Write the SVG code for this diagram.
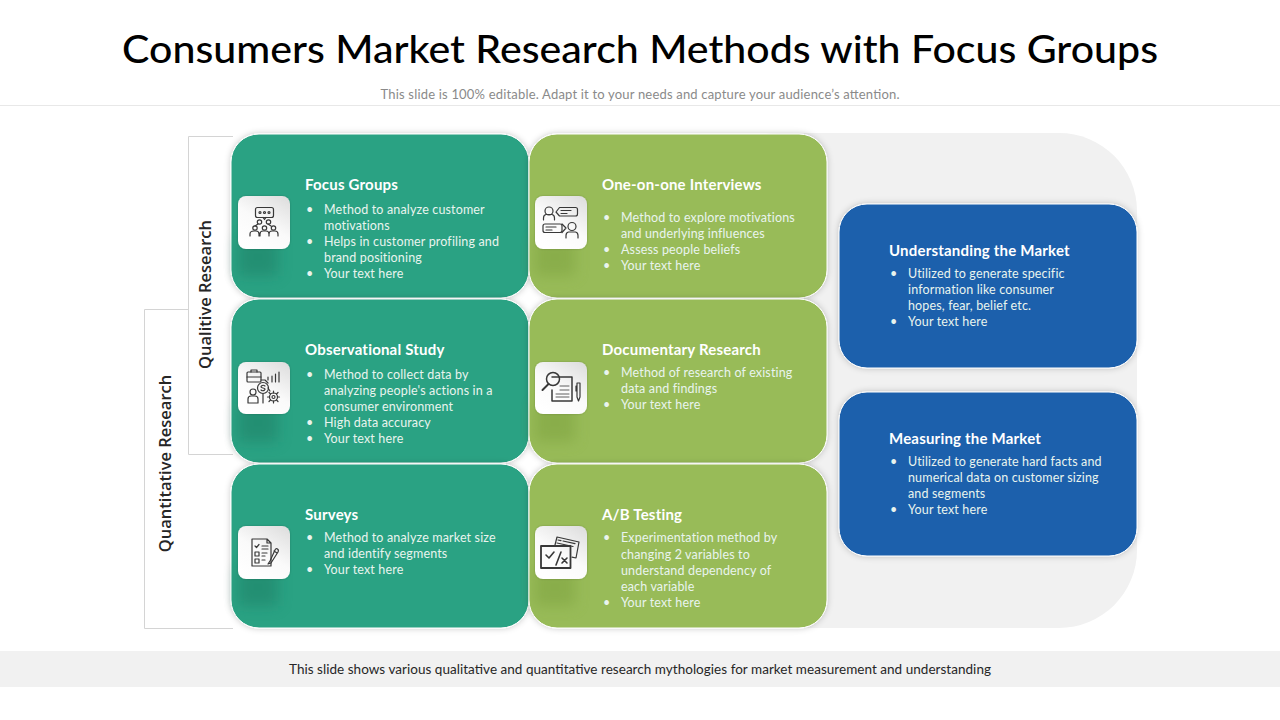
<svg xmlns="http://www.w3.org/2000/svg" width="1280" height="720" viewBox="0 0 1280 720">
<style>
text{font-family:"Lato","Open Sans",sans-serif}
.title{font-size:39px;font-weight:500;fill:#000;font-family:"Lato",sans-serif}
.sub{font-size:13px;fill:#8a8a8a}
.foot{font-size:13.5px;fill:#262626}
.side{font-size:16.500px;font-weight:600;fill:#262626;font-family:"Open Sans",sans-serif}
.h{font-size:15px;font-weight:700;fill:#fff;letter-spacing:.2px}
.b{font-size:12.500px;fill:#e9f4ee;letter-spacing:.15px;transform:translateY(.7px)}
.card{stroke:#fff;stroke-width:1;filter:url(#sh)}
.teal{fill:#2ca283}.green{fill:#98bb59}.blue{fill:#1c60ac}
.ib{fill:url(#ig);stroke:none;filter:url(#is)}
.ic{fill:none;stroke:#383838;stroke-width:1.200;stroke-linecap:round;stroke-linejoin:round}
.brk{fill:none;stroke:#d4d4d4;stroke-width:1}
</style>
<defs>
<filter id="sh" x="-10%" y="-10%" width="120%" height="120%"><feDropShadow dx="0" dy="0" stdDeviation="3" flood-color="#000" flood-opacity=".22"/></filter>
<filter id="is" x="-20%" y="-20%" width="140%" height="140%"><feDropShadow dx="0" dy="0" stdDeviation="1" flood-color="#000" flood-opacity=".2"/></filter>
<filter id="bl" x="-40%" y="-40%" width="180%" height="180%"><feGaussianBlur stdDeviation="7"/></filter>
<linearGradient id="ig" x1="0.9" y1="0" x2="0.3" y2="1"><stop offset="0" stop-color="#dedede"/><stop offset=".55" stop-color="#fafafa"/><stop offset="1" stop-color="#fff"/></linearGradient>
</defs>
<rect width="1280" height="720" fill="#fff"/>
<text class="title" x="640" y="63" text-anchor="middle" textLength="1036" lengthAdjust="spacingAndGlyphs">Consumers Market Research Methods with Focus Groups</text>
<text class="sub" x="640" y="99" text-anchor="middle" textLength="519" lengthAdjust="spacing">This slide is 100% editable. Adapt it to your needs and capture your audience’s attention.</text>
<line x1="0" y1="105.500" x2="1280" y2="105.500" stroke="#e8e8e8"/>
<rect x="0" y="651" width="1280" height="36" fill="#f1f1f1"/>
<text class="foot" x="640" y="674" text-anchor="middle" textLength="702" lengthAdjust="spacing">This slide shows various qualitative and quantitative research mythologies for market measurement and understanding</text>
<rect id="backdrop" x="700" y="133" width="437" height="495" rx="78" fill="#f1f1f1"/>
<g id="connectors">
<path class="brk" d="M233 136.500H188.500V454.500H233"/>
<path class="brk" d="M188 309.500H144.500V628.500H233"/>
</g>
<text class="side" transform="translate(210.500 294.500) rotate(-90)" text-anchor="middle">Qualitive Research</text>
<text class="side" transform="translate(171 463.500) rotate(-90)" text-anchor="middle">Quantitative Research</text>

<g id="focus-groups">
<rect class="card teal" x="231" y="134" width="298" height="164" rx="28"/>
<rect x="238" y="238" width="40" height="38" fill="#1a7d63" opacity=".5" filter="url(#bl)"/>
<rect class="ib" x="238" y="196" width="52" height="53" rx="8"/>
<g class="ic"><rect x="255.500" y="207.500" width="18" height="10" rx="2"/><path d="M263 217.500l1.500 2 1.500-2"/><circle cx="260" cy="212.500" r="1"/><circle cx="264.500" cy="212.500" r="1"/><circle cx="269" cy="212.500" r="1"/><circle cx="259.500" cy="222" r="2.200"/><circle cx="268.500" cy="222" r="2.200"/><circle cx="255" cy="228" r="2.200"/><circle cx="264.500" cy="228" r="2.200"/><circle cx="273.500" cy="228" r="2.200"/><path d="M250 236v-2q0-3 4-3h2q3 0 3 3v2M260 236v-2q0-3 3-3h3q3 0 3 3v2M269 236v-2q0-3 3-3h3q3 0 3 3v2M255 226l3-2M271 226l-3-2"/></g>
<text class="h" x="305" y="190">Focus Groups</text>
<text class="b" x="306" y="213">•</text><text class="b" x="324" y="213">Method to analyze customer</text>
<text class="b" x="324" y="229">motivations</text>
<text class="b" x="306" y="245">•</text><text class="b" x="324" y="245">Helps in customer profiling and</text>
<text class="b" x="324" y="261">brand positioning</text>
<text class="b" x="306" y="277">•</text><text class="b" x="324" y="277">Your text here</text>
</g>

<g id="observational-study">
<rect class="card teal" x="231" y="299" width="298" height="164" rx="28"/>
<rect x="238" y="404" width="40" height="38" fill="#1a7d63" opacity=".5" filter="url(#bl)"/>
<rect class="ib" x="238" y="362" width="52" height="52" rx="8"/>
<g class="ic"><rect x="247" y="372" width="14" height="10" rx="1"/><path d="M251 372v-2h6v2M247 377h14M261 380h4l3 3M268 380v-3M272 382v-6M275.500 382v-8M279 382v-10"/><circle cx="263" cy="388" r="5.500"/><path d="M265 386q-2-1.500-3.500 0t1.500 2 1.500 2-3.500 0M263 394v9"/><circle cx="253" cy="392" r="3"/><path d="M248 403v-4q0-3 3-3h4q3 0 3 3v4z"/><circle cx="273.500" cy="397" r="4"/><circle cx="273.500" cy="397" r="1.500"/><path d="M273.500 391v2M273.500 401v2M267.500 397h2M277.500 397h2M269 392.500l1.500 1.500M278 392.500l-1.500 1.500M269 401.500l1.500-1.500M278 401.500l-1.500-1.500M268 388l2 3"/></g>
<text class="h" x="305" y="355">Observational Study</text>
<text class="b" x="306" y="378">•</text><text class="b" x="324" y="378">Method to collect data by</text>
<text class="b" x="324" y="394">analyzing people's actions in a</text>
<text class="b" x="324" y="410">consumer environment</text>
<text class="b" x="306" y="426">•</text><text class="b" x="324" y="426">High data accuracy</text>
<text class="b" x="306" y="442">•</text><text class="b" x="324" y="442">Your text here</text>
</g>

<g id="surveys">
<rect class="card teal" x="231" y="464" width="298" height="164" rx="28"/>
<rect x="238" y="568" width="40" height="38" fill="#1a7d63" opacity=".5" filter="url(#bl)"/>
<rect class="ib" x="238" y="526" width="52" height="53" rx="8"/>
<g class="ic"><path d="M252 539h15l4 4v23h-19zM267 539v4h4"/><path d="M255 546l1.500 1.500 2.500-3M262 546h6M262 549h6"/><rect x="255" y="552" width="4" height="4"/><rect x="255" y="559" width="4" height="4"/><path d="M262 553h5M262 556h3M262 560h3"/><path d="M270 561l-2 3 3-1 7-11q1-2-.5-3t-2.500 1zM274 551l3 2"/></g>
<text class="h" x="305" y="520">Surveys</text>
<text class="b" x="306" y="541">•</text><text class="b" x="324" y="541">Method to analyze market size</text>
<text class="b" x="324" y="557">and identify segments</text>
<text class="b" x="306" y="573">•</text><text class="b" x="324" y="573">Your text here</text>
</g>

<g id="interviews">
<rect class="card green" x="529" y="134" width="298" height="164" rx="28"/>
<rect x="535" y="238" width="40" height="38" fill="#7ba03c" opacity=".5" filter="url(#bl)"/>
<rect class="ib" x="535" y="196" width="52" height="53" rx="8"/>
<g class="ic"><circle cx="549" cy="211" r="4"/><path d="M543.500 220v-2q0-3 2.500-3.500h6q2.500.5 2.500 3.500v2M556 212l3.500-4.500h16q2 0 2 2v4.500q0 2-2 2h-16zM561 210.500h10M561 213.500h6"/><rect x="543" y="224" width="19" height="8.500" rx="2"/><path d="M562 224l4 4-4 4.500M546 227h10M546 230h6"/><circle cx="572" cy="226.500" r="4"/><path d="M566 238v-2.500q0-3 2.500-3.500h7q2.500.5 2.500 3.500v2.500"/></g>
<text class="h" x="602" y="190">One-on-one Interviews</text>
<text class="b" x="603" y="221">•</text><text class="b" x="621" y="221">Method to explore motivations</text>
<text class="b" x="621" y="237">and underlying influences</text>
<text class="b" x="603" y="253">•</text><text class="b" x="621" y="253">Assess people beliefs</text>
<text class="b" x="603" y="269">•</text><text class="b" x="621" y="269">Your text here</text>
</g>

<g id="documentary-research">
<rect class="card green" x="529" y="299" width="298" height="164" rx="28"/>
<rect x="535" y="404" width="40" height="38" fill="#7ba03c" opacity=".5" filter="url(#bl)"/>
<rect class="ib" x="535" y="362" width="52" height="52" rx="8"/>
<g class="ic"><path d="M552 377h20v24h-20v-11" stroke-width="1.500"/><circle cx="553" cy="379" r="6.500" stroke-width="1.500"/><path d="M548.500 384l-6 6" stroke-width="2"/><path d="M560 386h9M560 390h9M556 394h13M556 397h13" stroke-width=".8"/><path d="M577 383h3v14l-1.500 4-1.500-4zM577 386h-1v5"/></g>
<text class="h" x="602" y="355">Documentary Research</text>
<text class="b" x="603" y="376">•</text><text class="b" x="621" y="376">Method of research of existing</text>
<text class="b" x="621" y="392">data and findings</text>
<text class="b" x="603" y="408">•</text><text class="b" x="621" y="408">Your text here</text>
</g>

<g id="ab-testing">
<rect class="card green" x="529" y="464" width="298" height="164" rx="28"/>
<rect x="535" y="568" width="40" height="38" fill="#7ba03c" opacity=".5" filter="url(#bl)"/>
<rect class="ib" x="535" y="526" width="52" height="53" rx="8"/>
<g class="ic"><path d="M555 545l2-8 22 5-3 16-4-.8"/><path d="M558 540l3 .7M563 541l12 2.700M557 543l16 3.500"/><rect x="541" y="546" width="29.500" height="22" stroke-width="1.800"/><path d="M546 555l3 3 5-6M561 552l-5 13M562 558l5 5M567 558l-5 5" stroke-width="1.600"/></g>
<text class="h" x="602" y="520">A/B Testing</text>
<text class="b" x="603" y="541">•</text><text class="b" x="621" y="541">Experimentation method by</text>
<text class="b" x="621" y="558">changing 2 variables to</text>
<text class="b" x="621" y="574">understand dependency of</text>
<text class="b" x="621" y="590">each variable</text>
<text class="b" x="603" y="606">•</text><text class="b" x="621" y="606">Your text here</text>
</g>

<g id="understanding">
<rect class="card blue" x="839" y="204" width="298" height="164" rx="28"/>
<text class="h" x="889" y="256">Understanding the Market</text>
<text class="b" x="890" y="277">•</text><text class="b" x="908" y="277">Utilized to generate specific</text>
<text class="b" x="908" y="293">information like consumer</text>
<text class="b" x="908" y="309">hopes, fear, belief etc.</text>
<text class="b" x="890" y="325">•</text><text class="b" x="908" y="325">Your text here</text>
</g>

<g id="measuring">
<rect class="card blue" x="839" y="392" width="298" height="164" rx="28"/>
<text class="h" x="889" y="444">Measuring the Market</text>
<text class="b" x="890" y="465">•</text><text class="b" x="908" y="465">Utilized to generate hard facts and</text>
<text class="b" x="908" y="481">numerical data on customer sizing</text>
<text class="b" x="908" y="497">and segments</text>
<text class="b" x="890" y="513">•</text><text class="b" x="908" y="513">Your text here</text>
</g>
</svg>
